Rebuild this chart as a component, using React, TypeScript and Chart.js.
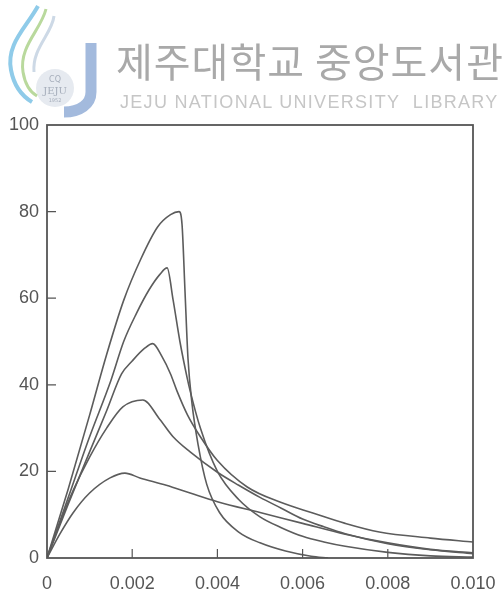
import React, { useEffect, useRef } from "react";
import { Chart, registerables } from "chart.js";

Chart.register(...registerables);

const X_TICKS = [0, 0.002, 0.004, 0.006, 0.008, 0.01];
const X_TICK_LABELS = ["0", "0.002", "0.004", "0.006", "0.008", "0.010"];
const Y_TICKS = [0, 20, 40, 60, 80, 100];
const Y_TICK_LABELS = ["0", "20", "40", "60", "80", "100"];

const curve1X = [0, 0.0005, 0.001, 0.0014, 0.0018, 0.0022, 0.0026, 0.0029, 0.0031, 0.00317, 0.00324, 0.00331, 0.0034, 0.00355, 0.00375, 0.00405, 0.0045, 0.005, 0.0056, 0.0062, 0.0066];
const curve1Y = [0, 16, 33, 47, 59.5, 69, 76.5, 79.3, 80, 77, 61.5, 46, 36, 26, 17, 10.5, 6, 3.5, 1.6, 0.4, 0];

const curve2X = [0, 0.0005, 0.001, 0.0015, 0.0018, 0.0021, 0.0024, 0.00265, 0.00282, 0.00296, 0.00312, 0.00329, 0.00336, 0.0036, 0.004, 0.0045, 0.005, 0.0055, 0.006, 0.0065, 0.007, 0.008, 0.009, 0.01];
const curve2Y = [0, 14, 28, 41, 50, 56.5, 62, 65.5, 67, 59.6, 50, 41.6, 38.6, 30, 20, 13.5, 9.5, 7, 5, 3.7, 2.7, 1.3, 0.5, 0.2];

const curve3X = [0, 0.0005, 0.001, 0.0014, 0.00175, 0.002, 0.0023, 0.00248, 0.0027, 0.0029, 0.00305, 0.0033, 0.0036, 0.004, 0.0047, 0.0055, 0.00624, 0.007, 0.0078, 0.009, 0.01];
const curve3Y = [0, 12.5, 24.5, 34, 42.5, 45.5, 48.5, 49.5, 46.5, 42.5, 38.6, 33, 28, 22.5, 16.4, 12.8, 10.4, 8, 6, 4.6, 3.7];

const curve4X = [0, 0.0003, 0.00061, 0.001, 0.0014, 0.00178, 0.00225, 0.00265, 0.00296, 0.00336, 0.004, 0.0045, 0.005, 0.0055, 0.006, 0.0065, 0.007, 0.008, 0.009, 0.01];
const curve4Y = [0, 8, 15.5, 23.3, 30, 34.9, 36.5, 32, 28, 24.5, 19.8, 16.8, 14, 11.5, 9, 7.2, 5.6, 3.3, 1.9, 1.0];

const curve5X = [0, 0.0003, 0.00061, 0.001, 0.00148, 0.00183, 0.00218, 0.0028, 0.00336, 0.004, 0.005, 0.006, 0.007, 0.008, 0.009, 0.01];
const curve5Y = [0, 5.5, 10.4, 15, 18.5, 19.6, 18.5, 16.8, 15, 13, 10.5, 8, 5.5, 3.5, 2, 1.2];

const SERIES = [
  [curve1X, curve1Y],
  [curve2X, curve2Y],
  [curve3X, curve3Y],
  [curve4X, curve4Y],
  [curve5X, curve5Y],
];

const LINE_COLOR = "#5c5c5c";
const AXIS_COLOR = "#555";
const TEXT_COLOR = "#555";

const framePlugin = {
  id: "frameAndTicks",
  afterDraw(chart: any) {
    const ctx = chart.ctx;
    const { left, right, top, bottom } = chart.chartArea;
    const xs = chart.scales.x;
    const ys = chart.scales.y;
    ctx.save();
    ctx.strokeStyle = AXIS_COLOR;
    ctx.lineWidth = 1.8;
    ctx.strokeRect(left, top, right - left, bottom - top);
    ctx.lineWidth = 1.2;
    ctx.beginPath();
    X_TICKS.slice(1, -1).forEach((v) => {
      const px = xs.getPixelForValue(v);
      ctx.moveTo(px, bottom);
      ctx.lineTo(px, bottom - 9);
    });
    Y_TICKS.slice(1, -1).forEach((v) => {
      const py = ys.getPixelForValue(v);
      ctx.moveTo(left, py);
      ctx.lineTo(left + 9, py);
    });
    ctx.stroke();
    ctx.restore();
  },
};

function Logo() {
  return (
    <svg width={110} height={120} style={{ position: "absolute", left: 0, top: 0 }}>
      <circle cx={55} cy={88} r={19} fill="#e6eaf0" />
      <path d="M38 6 C 26 28, 6 44, 11 70 C 14 86, 22 96, 32 102" stroke="#8fcbe9" strokeWidth={4} fill="none" />
      <path d="M46 9 C 41 30, 19 46, 23 72 C 25 84, 30 92, 37 96" stroke="#b9d99d" strokeWidth={3} fill="none" />
      <path d="M54 16 C 52 34, 32 48, 34 72" stroke="#cdd9e6" strokeWidth={3} fill="none" />
      <path d="M91 43 L 91 92 C 91 104, 80 112, 64 112" stroke="#a3badd" strokeWidth={11} fill="none" />
      <text x={55} y={82} fontSize={8} fill="#a6aebb" textAnchor="middle" fontFamily="DejaVu Sans">CQ</text>
      <text x={55} y={94} fontSize={10} fill="#a6aebb" textAnchor="middle" fontFamily="DejaVu Serif">JEJU</text>
      <text x={55} y={102} fontSize={5} fill="#a6aebb" textAnchor="middle" fontFamily="DejaVu Sans">1952</text>
    </svg>
  );
}

export default function App() {
  const canvasRef = useRef<HTMLCanvasElement | null>(null);

  useEffect(() => {
    if (!canvasRef.current) return;
    const chart = new Chart(canvasRef.current, {
      type: "line",
      data: {
        datasets: SERIES.map(([xs, ys]) => ({
          data: xs.map((x, i) => ({ x, y: ys[i] })),
          borderColor: LINE_COLOR,
          borderWidth: 1.6,
          pointRadius: 0,
          fill: false,
          cubicInterpolationMode: "monotone" as const,
        })),
      },
      options: {
        animation: false,
        responsive: false,
        maintainAspectRatio: false,
        layout: { padding: { top: 125, right: 29, left: 0, bottom: 0 } },
        plugins: { legend: { display: false }, tooltip: { enabled: false } },
        scales: {
          x: {
            type: "linear",
            min: 0,
            max: 0.01,
            afterBuildTicks: (s: any) => {
              s.ticks = X_TICKS.map((v) => ({ value: v }));
            },
            afterFit: (s: any) => {
              s.height = 44;
              s.paddingLeft = 0;
              s.paddingRight = 0;
            },
            ticks: {
              autoSkip: false,
              maxRotation: 0,
              padding: 15,
              color: TEXT_COLOR,
              font: { family: "'Liberation Sans', Arial, sans-serif", size: 18 },
              callback: (_v: any, i: number) => X_TICK_LABELS[i],
            },
            grid: { display: false, drawTicks: false },
            border: { display: false },
          },
          y: {
            type: "linear",
            min: 0,
            max: 100,
            afterBuildTicks: (s: any) => {
              s.ticks = Y_TICKS.map((v) => ({ value: v }));
            },
            afterFit: (s: any) => {
              s.width = 47;
              s.paddingTop = 0;
              s.paddingBottom = 0;
            },
            ticks: {
              autoSkip: false,
              padding: 8,
              color: TEXT_COLOR,
              font: { family: "'Liberation Sans', Arial, sans-serif", size: 18 },
              callback: (_v: any, i: number) => Y_TICK_LABELS[i],
            },
            grid: { display: false, drawTicks: false },
            border: { display: false },
          },
        },
      },
      plugins: [framePlugin],
    });
    return () => chart.destroy();
  }, []);

  return (
    <div style={{ position: "fixed", left: 0, top: 0, width: 502, height: 602, background: "#fff", overflow: "hidden" }}>
      <canvas ref={canvasRef} width={502} height={602} style={{ position: "absolute", left: 0, top: 0, width: 502, height: 602 }} />
      <Logo />
      <div
        style={{
          position: "absolute",
          left: 116,
          top: 40,
          fontFamily: "'Noto Sans CJK KR', sans-serif",
          fontSize: 40,
          lineHeight: "40px",
          color: "#a9a9a9",
          whiteSpace: "nowrap",
          letterSpacing: 1,
        }}
      >
        제주대학교 중앙도서관
      </div>
      <div
        style={{
          position: "absolute",
          left: 120,
          top: 93,
          fontFamily: "'Liberation Sans', Arial, sans-serif",
          fontSize: 18,
          lineHeight: "18px",
          color: "#c6c6c6",
          whiteSpace: "nowrap",
          letterSpacing: 1.3,
        }}
      >
        JEJU NATIONAL UNIVERSITY&nbsp;&nbsp;LIBRARY
      </div>
    </div>
  );
}
